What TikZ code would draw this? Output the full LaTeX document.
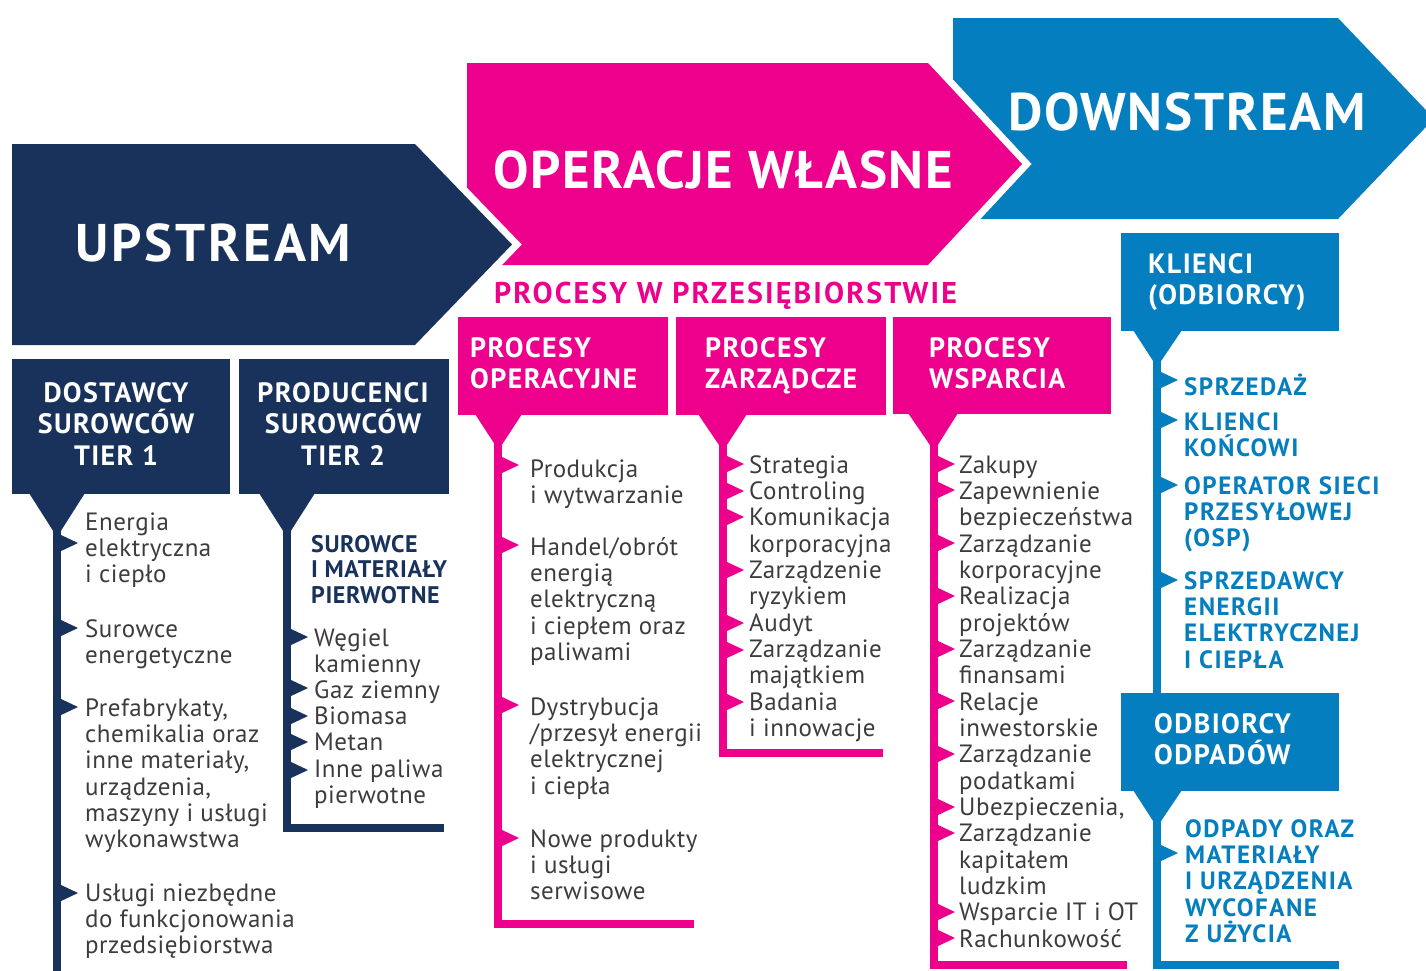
\documentclass[tikz,border=0pt]{standalone}
\usepackage{fontspec}
\setmainfont{PT Sans}
\definecolor{navy}{RGB}{24,50,92}
\definecolor{pinkc}{RGB}{236,0,140}
\definecolor{bluec}{RGB}{4,126,190}
\definecolor{txt}{RGB}{60,60,60}
\newcommand\ml[1]{\vtop{\lineskiplimit=-1000pt\lineskip=0pt\let\\\cr\halign{##\hfil\cr#1\crcr}}}
\newcommand\mcn[1]{\vtop{\lineskiplimit=-1000pt\lineskip=0pt\let\\\cr\halign{\hfil##\hfil\cr#1\crcr}}}
\tikzset{
  body/.style={anchor=base west, inner sep=0pt, text=txt, font=\fontsize{25}{26.35}\selectfont\addfontfeatures{LetterSpace=2}},
  bitem/.style={anchor=base west, inner sep=0pt, text=bluec, font=\bfseries\fontsize{25}{26.4}\selectfont\addfontfeatures{LetterSpace=6}},
  hdr/.style={anchor=base west, inner sep=0pt, text=white, font=\bfseries\fontsize{28}{31}\selectfont\addfontfeatures{LetterSpace=5}},
  hdrc/.style={anchor=base, inner sep=0pt, text=white, font=\bfseries\fontsize{28}{31.5}\selectfont\addfontfeatures{LetterSpace=5}},
  big/.style={anchor=base west, inner sep=0pt, text=white, font=\bfseries\fontsize{53}{60}\selectfont\addfontfeatures{LetterSpace=#1}},
  box/.style={anchor=north west, inner sep=0pt, draw=none},
  stem/.style={line width=8pt, line join=miter, line cap=butt},
  gap/.style={draw=white, line width=14pt, line join=miter},
  mk/.pic={\fill (-1,-8.5) -- (17,0) -- (-1,8.5) -- cycle;}
}
\begin{document}
\begin{tikzpicture}[x=1pt,y=-1pt]
\useasboundingbox (0,0) rectangle (1426,970);
% big arrows
\fill[bluec] (953,18) -- (1338,18) -- (1434,118.5) -- (1338,219) -- (953,219) -- cycle;
\filldraw[fill=pinkc, gap] (467,63) -- (928,63) -- (1022,164) -- (928,265) -- (467,265) -- cycle;
\fill[pinkc] (467,63) -- (928,63) -- (1022,164) -- (928,265) -- (467,265) -- cycle;
\filldraw[fill=navy, gap] (12,144) -- (415,144) -- (512,244.5) -- (415,345) -- (12,345) -- cycle;
\fill[navy] (12,144) -- (415,144) -- (512,244.5) -- (415,345) -- (12,345) -- cycle;
\node[big=5.5] (up) at (75,261) {UPSTREAM};
\node[big=3] (own) at (493,188) {OPERACJE WŁASNE};
\node[big=3.5] (down) at (1008,130) {DOWNSTREAM};
\node[anchor=base west, inner sep=0pt, text=pinkc, font=\bfseries\fontsize{30}{32}\selectfont\addfontfeatures{LetterSpace=7}] (proc) at (494,303) {PROCESY W PRZESIĘBIORSTWIE};

% boxes
\node[box, fill=navy, minimum width=218pt, minimum height=135pt] (b1) at (12,359) {};
\node[box, fill=navy, minimum width=210pt, minimum height=135pt] (b2) at (239,359) {};
\node[box, fill=pinkc, minimum width=210pt, minimum height=98pt] (b3) at (458,317) {};
\node[box, fill=pinkc, minimum width=210pt, minimum height=98pt] (b4) at (676,317) {};
\node[box, fill=pinkc, minimum width=218pt, minimum height=97pt] (b5) at (893,317) {};
\node[box, fill=bluec, minimum width=218pt, minimum height=98pt] (b6) at (1121,233) {};
\node[box, fill=bluec, minimum width=218pt, minimum height=98pt] (b7) at (1121,693) {};

% pennants
\fill[navy] (29,493) -- (85,493) -- (57,537) -- cycle;
\fill[navy] (259,493) -- (315,493) -- (287,537) -- cycle;
\fill[pinkc] (475,414) -- (522,414) -- (498.5,450) -- cycle;
\fill[pinkc] (698,414) -- (747,414) -- (723,451) -- cycle;
\fill[pinkc] (908,413) -- (958,413) -- (934,451) -- cycle;
\fill[bluec] (1133,330) -- (1182,330) -- (1157,367) -- cycle;
\fill[bluec] (1133,790) -- (1182,790) -- (1157,827) -- cycle;

% stems
\coordinate (s1a) at (57,520); \coordinate (s1b) at (57,975);
\draw[stem, navy] (s1a) -- (s1b);
\coordinate (s2a) at (287,520); \coordinate (s2b) at (287,828); \coordinate (s2c) at (444,828);
\draw[stem, navy] (s2a) -- (s2b) -- (s2c);
\coordinate (s3a) at (498,440); \coordinate (s3b) at (498,923.5); \coordinate (s3c) at (694,923.5);
\draw[stem, pinkc] (s3a) -- (s3b) -- (s3c);
\coordinate (s4a) at (723,440); \coordinate (s4b) at (723,753); \coordinate (s4c) at (883,753);
\draw[stem, pinkc] (s4a) -- (s4b) -- (s4c);
\coordinate (s5a) at (934,440); \coordinate (s5b) at (934,964.5); \coordinate (s5c) at (1127,964.5);
\draw[stem, pinkc] (s5a) -- (s5b) -- (s5c);
\coordinate (s6a) at (1157,355);
\draw[stem, bluec] (s6a) -- (b7.north -| s6a);
\coordinate (s7a) at (1157,815); \coordinate (s7b) at (1157,965); \coordinate (s7c) at (1339,965);
\draw[stem, bluec] (s7a) -- (s7b) -- (s7c);

% headers
\node[hdrc] (h1) at (116,402) {\mcn{DOSTAWCY\\SUROWCÓW\\TIER 1}};
\node[hdrc] (h2) at (343,402) {\mcn{PRODUCENCI\\SUROWCÓW\\TIER 2}};
\node[hdr] (h3) at (470,357) {\ml{PROCESY\\OPERACYJNE}};
\node[hdr] (h4) at (705,357) {\ml{PROCESY\\ZARZĄDCZE}};
\node[hdr] (h5) at (929,357) {\ml{PROCESY\\WSPARCIA}};
\node[hdr] (h6) at (1148,273) {\ml{KLIENCI\\(ODBIORCY)}};
\node[hdr] (h7) at (1154,733) {\ml{ODBIORCY\\ODPADÓW}};

% column 1
\node[body] (t11) at (85,530) {\ml{Energia\\elektryczna\\i ciepło}};
\node[body] (t12) at (85,637) {\ml{Surowce\\energetyczne}};
\node[body] (t13) at (85,716) {\ml{Prefabrykaty,\\chemikalia oraz\\inne materiały,\\urządzenia,\\maszyny i usługi\\wykonawstwa}};
\node[body] (t14) at (85,901) {\ml{Usługi niezbędne\\do funkcjonowania\\przedsiębiorstwa}};
\foreach \y in {543,628,707,893} \pic[fill=navy] at (61,\y) {mk};

% column 2
\node[anchor=base west, inner sep=0pt, text=navy, font=\bfseries\fontsize{24}{25.5}\selectfont\addfontfeatures{LetterSpace=2.5}] (sub2) at (311,552) {\ml{SUROWCE\\I MATERIAŁY\\PIERWOTNE}};
\node[body] (t21) at (314,646) {\ml{Węgiel\\kamienny}};
\node[body] (t22) at (314,698.4) {Gaz ziemny};
\node[body] (t23) at (314,724.6) {Biomasa};
\node[body] (t24) at (314,750.8) {Metan};
\node[body] (t25) at (314,777) {\ml{Inne paliwa\\pierwotne}};
\foreach \y in {637,688,716,742,770} \pic[fill=navy] at (291,\y) {mk};

% column 3
\node[body] (t31) at (530,477) {\ml{Produkcja\\i wytwarzanie}};
\node[body] (t32) at (530,555) {\ml{Handel/obrót\\energią\\elektryczną\\i ciepłem oraz\\paliwami}};
\node[body] (t33) at (530,715) {\ml{Dystrybucja\\/przesył energii\\elektrycznej\\i ciepła}};
\node[body] (t34) at (530,847) {\ml{Nowe produkty\\i usługi\\serwisowe}};
\foreach \y in {465,545,705,838} \pic[fill=pinkc] at (502,\y) {mk};

% column 4
\node[body] (t41) at (749,473) {\ml{Strategia\\Controling\\Komunikacja\\korporacyjna\\Zarządzenie\\ryzykiem\\Audyt\\Zarządzanie\\majątkiem\\Badania\\i innowacje}};
\foreach \y in {464,491,517,570,623,650,702} \pic[fill=pinkc] at (727,\y) {mk};

% column 5
\node[body] (t51) at (959,473) {\ml{Zakupy\\Zapewnienie\\bezpieczeństwa\\Zarządzanie\\korporacyjne\\Realizacja\\projektów\\Zarządzanie\\finansami\\Relacje\\inwestorskie\\Zarządzanie\\podatkami\\Ubezpieczenia,\\Zarządzanie\\kapitałem\\ludzkim\\Wsparcie IT i OT\\Rachunkowość}};
\foreach \y in {464,490,543,596,649,701,754,807,833,912,938} \pic[fill=pinkc] at (938,\y) {mk};

% column 6
\node[bitem] (t61) at (1184,395) {SPRZEDAŻ};
\node[bitem] (t62) at (1184,430) {\ml{KLIENCI\\KOŃCOWI}};
\node[bitem] (t63) at (1184,494) {\ml{OPERATOR SIECI\\PRZESYŁOWEJ\\(OSP)}};
\node[bitem] (t64) at (1184,589) {\ml{SPRZEDAWCY\\ENERGII\\ELEKTRYCZNEJ\\I CIEPŁA}};
\foreach \y in {380,420,485,580} \pic[fill=bluec] at (1161,\y) {mk};

% column 7
\node[bitem] (t71) at (1185,837) {\ml{ODPADY ORAZ\\MATERIAŁY\\I URZĄDZENIA\\WYCOFANE\\Z UŻYCIA}};
\pic[fill=bluec] at (1161,853) {mk};
\end{tikzpicture}
\end{document}
